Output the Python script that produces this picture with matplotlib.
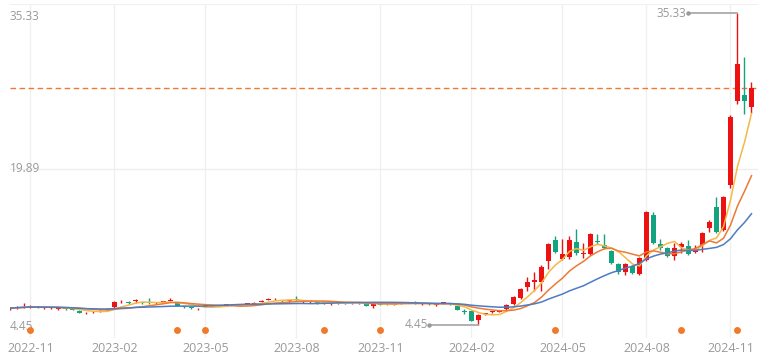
import numpy as np
import pandas as pd
import matplotlib
matplotlib.use('Agg')
import matplotlib.pyplot as plt
from matplotlib.transforms import blended_transform_factory

# ---- data (weekly candles) ----
opens = [6.05, 6.10, 6.15, 6.22, 6.30, 6.10, 6.10, 6.00, 6.05, 6.00,
         5.85, 5.58, 5.68, 5.78, 5.95, 6.20, 6.78, 6.66, 6.80, 6.65,
         6.65, 6.60, 6.70, 6.85, 6.72, 6.25, 6.15, 5.98, 6.30, 6.32,
         6.33, 6.40, 6.42, 6.41, 6.50, 6.55, 6.75, 6.95, 6.98, 6.85,
         6.80, 6.93, 6.70, 6.68, 6.72, 6.60, 6.50, 6.60, 6.62, 6.60,
         6.60, 6.62, 6.32, 6.52, 6.53, 6.42, 6.60, 6.62, 6.65, 6.50,
         6.52, 6.40, 6.60, 6.52, 6.32, 5.75, 5.82, 4.93, 5.50, 5.70,
         5.72, 6.02, 6.52, 7.11, 8.20, 8.70, 8.70, 10.77, 12.85, 10.97,
         11.17, 12.66, 11.47, 11.47, 12.80, 12.36, 11.77, 10.48, 9.69, 10.28,
         9.49, 10.87, 15.33, 12.46, 12.06, 11.27, 12.16, 12.26, 11.67, 12.36,
         14.04, 16.12, 13.84, 18.30, 26.62, 27.21, 26.02]
closes = [6.10, 6.20, 6.25, 6.32, 6.20, 6.15, 6.15, 6.12, 6.02, 5.92,
          5.65, 5.65, 5.76, 5.85, 6.05, 6.70, 6.82, 6.60, 6.85, 6.60,
          6.60, 6.62, 6.75, 6.95, 6.32, 6.20, 6.10, 6.05, 6.32, 6.34,
          6.35, 6.42, 6.44, 6.44, 6.52, 6.65, 6.85, 7.05, 7.06, 6.80,
          6.84, 6.90, 6.72, 6.73, 6.52, 6.62, 6.55, 6.62, 6.64, 6.62,
          6.64, 6.32, 6.62, 6.42, 6.50, 6.62, 6.65, 6.65, 6.60, 6.55,
          6.48, 6.45, 6.63, 6.50, 5.92, 5.70, 4.83, 5.43, 5.55, 5.76,
          5.80, 6.42, 7.21, 8.00, 8.70, 8.89, 10.18, 12.46, 11.67, 11.47,
          12.85, 11.57, 11.57, 13.45, 12.70, 12.06, 10.58, 9.69, 10.48, 9.59,
          11.07, 15.63, 12.56, 12.06, 11.27, 12.06, 12.46, 11.47, 11.96, 13.55,
          14.64, 13.65, 17.11, 25.03, 30.28, 26.62, 27.90]
highs = [6.20, 6.28, 6.62, 6.40, 6.35, 6.20, 6.20, 6.18, 6.10, 6.05,
         5.90, 5.70, 5.80, 5.90, 6.10, 6.80, 6.95, 6.80, 6.98, 6.75,
         7.10, 6.70, 6.85, 7.10, 6.75, 6.30, 6.20, 6.10, 6.40, 6.40,
         6.42, 6.48, 6.50, 6.50, 6.58, 6.70, 6.92, 7.12, 7.15, 6.92,
         6.92, 7.30, 6.80, 6.80, 6.76, 6.68, 6.60, 6.68, 6.70, 6.68,
         6.75, 6.65, 6.66, 6.56, 6.62, 6.66, 6.72, 6.70, 6.78, 6.60,
         6.60, 6.50, 6.72, 6.58, 6.35, 6.02, 5.85, 5.50, 5.62, 5.82,
         5.86, 6.50, 7.30, 8.10, 9.19, 9.69, 10.38, 12.56, 13.25, 12.95,
         13.25, 13.94, 12.56, 13.50, 13.45, 13.45, 11.90, 10.60, 10.60, 10.40,
         11.20, 15.70, 15.63, 13.00, 12.20, 12.56, 12.66, 12.85, 12.36, 13.65,
         14.84, 17.11, 17.20, 25.20, 35.33, 30.97, 28.50]
lows = [5.90, 6.05, 6.10, 6.15, 6.15, 6.05, 6.05, 5.95, 5.95, 5.88,
        5.60, 5.50, 5.62, 5.72, 5.90, 6.15, 6.65, 6.50, 6.65, 6.50,
        6.50, 6.55, 6.60, 6.80, 6.28, 6.15, 6.05, 5.95, 6.25, 6.28,
        6.28, 6.35, 6.38, 6.36, 6.45, 6.50, 6.70, 6.90, 6.92, 6.72,
        6.72, 6.80, 6.62, 6.62, 6.48, 6.55, 6.45, 6.55, 6.56, 6.55,
        6.55, 6.28, 6.12, 6.38, 6.45, 6.38, 6.55, 6.58, 6.55, 6.45,
        6.42, 6.35, 6.55, 6.45, 5.88, 5.53, 4.80, 4.45, 5.45, 5.65,
        5.68, 5.90, 6.45, 7.00, 7.81, 7.81, 7.81, 9.98, 11.60, 10.90,
        11.00, 11.37, 11.07, 11.40, 12.46, 11.96, 10.50, 9.50, 9.39, 9.50,
        9.40, 10.80, 12.50, 11.90, 11.20, 10.87, 11.60, 11.40, 11.57, 11.67,
        13.65, 13.55, 13.70, 18.00, 26.30, 25.33, 25.43]

tick_idx = [3, 15, 28, 41, 53, 66, 79, 91, 103]
tick_labels = ['2022-11', '2023-02', '2023-05', '2023-08', '2023-11',
               '2024-02', '2024-05', '2024-08', '2024-11']
event_idx = [3, 24, 28, 45, 53, 78, 96, 104]
ma_windows = [5, 10, 20]

# ---- style ----
RED = '#ee1111'
GREEN = '#14a37f'
MA_COLORS = ['#f5b845', '#ec7a35', '#4b7cc4']
LABEL_C = '#999999'
plt.rcParams['font.family'] = ['Open Sans', 'DejaVu Sans']

W, H = 767, 360
fig = plt.figure(figsize=(W / 100, H / 100), dpi=100)
L, R, T, B = 10, 758, 4, 338
ax = fig.add_axes([L / W, 1 - B / H, (R - L) / W, (B - T) / H])

n = len(closes)
x = np.arange(n)
o = np.array(opens); c = np.array(closes)
hi = np.array(highs); lo = np.array(lows)

# pixel mapping: candle i at 9.5 + 7*i px ; value mapping 10.1 px/unit
ax.set_xlim((L - 9.5) / 7, (R - 9.5) / 7)
vmax, vmin = hi.max(), lo.min()
ppu = 10.1
ax.set_ylim(vmax - (B - 13) / ppu, vmax + (13 - T) / ppu)

for s in ax.spines.values():
    s.set_visible(False)

# grid
for t in tick_idx:
    ax.axvline(t, color='#f0f0f0', lw=1, zorder=0)
mid = (vmin + vmax) / 2
ax.axhline(mid, color='#eeeeee', lw=1, zorder=0)
ax.axhline(ax.get_ylim()[1], color='#f0f0f0', lw=1.5, zorder=0)

# candles
up = c >= o
colors = np.where(up, RED, GREEN)
ax.vlines(x, lo, hi, colors=colors, lw=1, zorder=2)
body_h = np.maximum(np.abs(c - o), 0.08)
ax.bar(x, body_h, bottom=np.minimum(o, c), width=0.72, color=colors,
       edgecolor='none', zorder=3)

# moving averages
cs = pd.Series(closes)
for w, col in zip(ma_windows, MA_COLORS):
    ax.plot(x, cs.rolling(w, min_periods=1).mean(), color=col, lw=1.1, zorder=4)

# last price dashed line
ax.axhline(closes[-1], color='#ec7a35', lw=1, ls=(0, (4, 2.5)), zorder=1)

# max / min markers
imax = int(np.argmax(hi)); imin = int(np.argmin(lo))
for idx, val in [(imax, vmax), (imin, vmin)]:
    ax.plot([idx - 7, idx], [val, val], color='#aaaaaa', lw=1.3, zorder=5)
    ax.plot([idx - 7], [val], 'o', color='#999999', ms=2.2, zorder=5)
    ax.text(idx - 7.25, val, f'{val:.2f}', ha='right', va='center',
            color='#999999', fontsize=8.5, zorder=6)

# event dots
dot_y = vmin - 0.5
ax.plot(event_idx, [dot_y] * len(event_idx), 'o', color='#f07a2a', ms=5,
        mec='none', zorder=5, clip_on=False)

# y labels (inside)
trans = blended_transform_factory(ax.transAxes, ax.transData)
for val, off in [(vmax, -0.3), (mid, 0.0), (vmin, -0.15)]:
    ax.text(0.0, val + off, f'{val:.2f}', transform=trans, ha='left', va='center',
            color=LABEL_C, fontsize=8.5)
ax.set_yticks([])

ax.set_xticks(tick_idx)
ax.set_xticklabels(tick_labels, color=LABEL_C, fontsize=9)
ax.tick_params(axis='x', length=0, pad=3)

fig.savefig('out.png', dpi=100)
